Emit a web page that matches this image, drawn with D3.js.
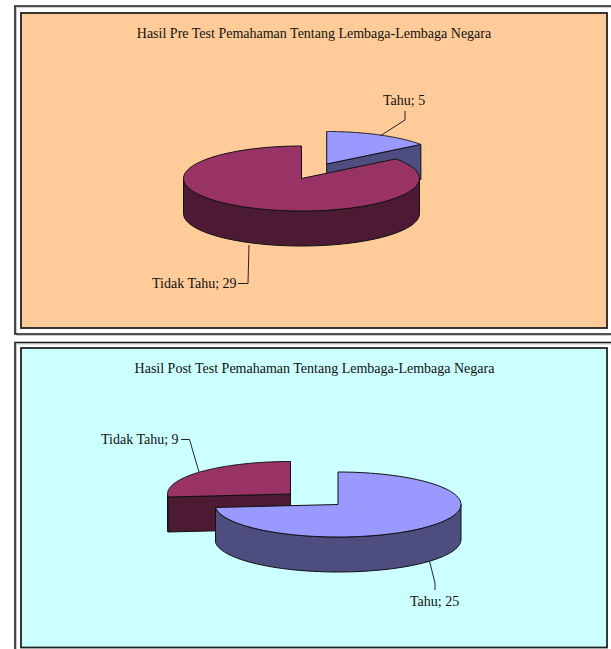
<!DOCTYPE html>
<html>
<head>
<meta charset="utf-8">
<script src="https://cdnjs.cloudflare.com/ajax/libs/d3/7.8.5/d3.min.js"></script>
<style>
  html, body { margin: 0; padding: 0; background: #fff; }
  svg { display: block; }
  text { font-family: "Liberation Serif", serif; font-size: 14px; fill: #111; }
</style>
</head>
<body>
<svg id="chart"></svg>
<script>
const categories = ["Tahu", "Tidak Tahu"];
const preValues = [5, 29];
const postValues = [25, 9];
const titles = [
  "Hasil Pre Test Pemahaman Tentang Lembaga-Lembaga Negara",
  "Hasil Post Test Pemahaman Tentang Lembaga-Lembaga Negara"
];

const topColor = { "Tahu": "#9999ff", "Tidak Tahu": "#993366" };
const sideColor = { "Tahu": "#4d4d80", "Tidak Tahu": "#4d1a33" };

const svg = d3.select("#chart").attr("width", 611).attr("height", 649);

// double frame round each chart, the outer one runs off the right side
function drawFrame(outerTop, outerBottom, innerTop, innerBottom, fill) {
  svg.append("path")
    .attr("d", `M611,${outerTop + 1.5}H16.5V${outerBottom + 1.5}H611`)
    .attr("fill", "none").attr("stroke", "#c8c8c8").attr("stroke-width", 1);
  svg.append("path")
    .attr("d", `M611,${outerTop}H15V${outerBottom}H611`)
    .attr("fill", "none").attr("stroke", "#1a1a1a").attr("stroke-width", 1.6);
  svg.append("rect")
    .attr("x", 21).attr("y", innerTop)
    .attr("width", 586).attr("height", innerBottom - innerTop)
    .attr("fill", fill).attr("stroke", "#222").attr("stroke-width", 1.8);
}

drawFrame(6, 334, 13, 328, "#ffcc99");
drawFrame(342.5, 660, 348, 647.5, "#ccffff");

const pie = d3.pie().sort(null);

function drawPie(values, geo) {
  const arcs = pie(values);
  const g = svg.append("g");
  const line = d3.line();

  // one slice: walls first, then the lid on top
  function slice(i) {
    const d = arcs[i];
    const name = categories[i];
    const c = geo.centers[i];
    const pt = (a, dy = 0) => [c[0] + geo.rx * Math.sin(a), c[1] - geo.ry * Math.cos(a) + dy];
    const wall = pts => g.append("path")
      .attr("d", line(pts) + "Z")
      .attr("fill", sideColor[name])
      .attr("stroke", "#111").attr("stroke-width", 1);

    // the part of the rim that faces the viewer
    const from = Math.max(d.startAngle, Math.PI / 2);
    const to = Math.min(d.endAngle, Math.PI * 1.5);
    if (to > from) {
      const samples = d3.range(61).map(k => from + (to - from) * k / 60);
      wall(samples.map(a => pt(a)).concat(samples.reverse().map(a => pt(a, geo.depth))));
    }

    // cut faces, only those turned to the front show
    if (d.endAngle < Math.PI) {
      wall([c, pt(d.endAngle), pt(d.endAngle, geo.depth), [c[0], c[1] + geo.depth]]);
    }
    if (d.startAngle > Math.PI) {
      wall([c, pt(d.startAngle), pt(d.startAngle, geo.depth), [c[0], c[1] + geo.depth]]);
    }

    const samples = d3.range(121).map(k => d.startAngle + (d.endAngle - d.startAngle) * k / 120);
    g.append("path")
      .attr("d", line([c].concat(samples.map(a => pt(a)))) + "Z")
      .attr("fill", topColor[name])
      .attr("stroke", "#111").attr("stroke-width", 1);
  }

  geo.order.forEach(slice);

  // title, leader lines and labels
  svg.append("text")
    .attr("x", geo.titleX).attr("y", geo.titleY)
    .attr("text-anchor", "middle")
    .text(geo.title);

  geo.labels.forEach((l, i) => {
    svg.append("path")
      .attr("d", line(l.leader))
      .attr("fill", "none").attr("stroke", "#222").attr("stroke-width", 1);
    svg.append("text")
      .attr("x", l.x).attr("y", l.y)
      .text(`${categories[i]}; ${values[i]}`);
  });
}

drawPie(preValues, {
  centers: [[326.7, 164], [301.5, 178.5]],
  rx: 118, ry: 32.5, depth: 35,
  order: [0, 1],
  title: titles[0], titleX: 314, titleY: 38,
  labels: [
    { x: 383, y: 105, leader: [[380, 136], [405, 120], [405, 111]] },
    { x: 152, y: 288, leader: [[249, 245], [248, 283.5], [238, 283.5]] }
  ]
});

drawPie(postValues, {
  centers: [[338, 504.5], [290.5, 494]],
  rx: 123, ry: 32.5, depth: 35,
  order: [1, 0],
  title: titles[1], titleX: 314.5, titleY: 373,
  labels: [
    { x: 410, y: 606, leader: [[429.5, 561], [435, 583], [435, 590]] },
    { x: 101, y: 444, leader: [[181, 439.5], [189.5, 439.5], [199, 472]] }
  ]
});
</script>
</body>
</html>
